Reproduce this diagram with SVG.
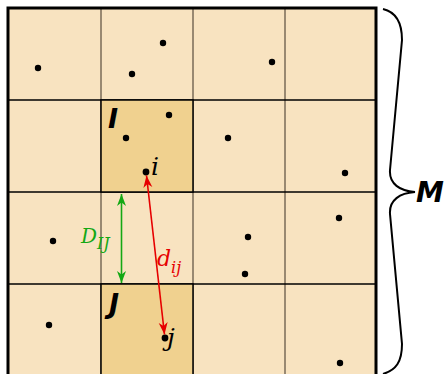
<svg xmlns="http://www.w3.org/2000/svg" width="444" height="374" viewBox="0 0 444 374">
<style>
.cell{fill:#F8E3C0}
.hl{fill:#F0D18F;stroke:#000;stroke-width:1.5}
.vl{stroke:#7a6b58;stroke-width:1.5}
.hln{stroke:#000;stroke-width:1.5}
.dot{fill:#000}
.bold{font-family:"DejaVu Sans",sans-serif;font-weight:bold;font-style:italic}
.ital{font-family:"DejaVu Serif",serif;font-style:italic}
</style>
<defs>
<marker id="ag" viewBox="0 0 12 10" refX="12" refY="5" markerWidth="12" markerHeight="10" markerUnits="userSpaceOnUse" orient="auto-start-reverse">
<path d="M0,0.5 L12,5 L0,9.5 L3.5,5 Z" fill="#14A814"/>
</marker>
<marker id="ar" viewBox="0 0 12 10" refX="12" refY="5" markerWidth="12" markerHeight="10" markerUnits="userSpaceOnUse" orient="auto-start-reverse">
<path d="M0,0.5 L12,5 L0,9.5 L3.5,5 Z" fill="#E60000"/>
</marker>
</defs>
<g id="grid">
<rect class="cell" x="8" y="8" width="368" height="370"/>
<line class="vl" x1="101" y1="8" x2="101" y2="378"/>
<line class="vl" x1="193" y1="8" x2="193" y2="378"/>
<line class="vl" x1="285" y1="8" x2="285" y2="378"/>
<line class="hln" x1="8" y1="100" x2="376" y2="100"/>
<line class="hln" x1="8" y1="192" x2="376" y2="192"/>
<line class="hln" x1="8" y1="284" x2="376" y2="284"/>
</g>
<g id="cellI"><rect class="hl" x="101" y="100" width="92" height="92"/>
<text class="bold" x="108" y="128" font-size="27">I</text></g>
<g id="cellJ"><rect class="hl" x="101" y="284" width="92" height="96"/>
<text class="bold" x="109" y="313" font-size="27">J</text></g>
<rect x="8" y="8" width="368" height="372" fill="none" stroke="#000" stroke-width="3"/>
<g id="points">
<circle class="dot" cx="38" cy="68" r="3.2"/>
<circle class="dot" cx="163" cy="43" r="3.2"/>
<circle class="dot" cx="132" cy="74" r="3.2"/>
<circle class="dot" cx="272" cy="62" r="3.2"/>
<circle class="dot" cx="169" cy="115" r="3.2"/>
<circle class="dot" cx="126" cy="138" r="3.2"/>
<circle class="dot" cx="228" cy="138" r="3.2"/>
<circle class="dot" cx="345" cy="173" r="3.2"/>
<circle class="dot" cx="339" cy="218" r="3.2"/>
<circle class="dot" cx="53" cy="241" r="3.2"/>
<circle class="dot" cx="248" cy="237" r="3.2"/>
<circle class="dot" cx="245" cy="274" r="3.2"/>
<circle class="dot" cx="49" cy="325" r="3.2"/>
<circle class="dot" cx="340" cy="363" r="3.2"/>
</g>
<g id="pi"><circle class="dot" cx="146" cy="172" r="3.4"/>
<text class="ital" x="151" y="175" font-size="25">i</text></g>
<g id="pj"><circle class="dot" cx="165" cy="338" r="3.4"/>
<text class="ital" x="167" y="346" font-size="25">j</text></g>
<g id="connectors">
<line x1="121.5" y1="194" x2="121.5" y2="283" stroke="#14A814" stroke-width="1.6" marker-start="url(#ag)" marker-end="url(#ag)"/>
<line x1="146.5" y1="175.5" x2="164.5" y2="334.5" stroke="#E60000" stroke-width="1.6" marker-start="url(#ar)" marker-end="url(#ar)"/>
</g>
<g id="labelD" fill="#14A814" class="ital"><text x="81" y="243" font-size="20">D<tspan font-size="16" dy="6">IJ</tspan></text></g>
<g id="labeld" fill="#E60000" class="ital"><text x="157" y="266" font-size="22">d<tspan font-size="16" dy="7">ij</tspan></text></g>
<g id="brace">
<path d="M383,9 C396,12 402,22 402,40 L390,170 C389,184 400,191 415,192 C400,193 389,200 390,214 L402,344 C402,362 396,370 383,374" fill="none" stroke="#000" stroke-width="2"/>
<text class="bold" x="416" y="202" font-size="28">M</text>
</g>
</svg>
